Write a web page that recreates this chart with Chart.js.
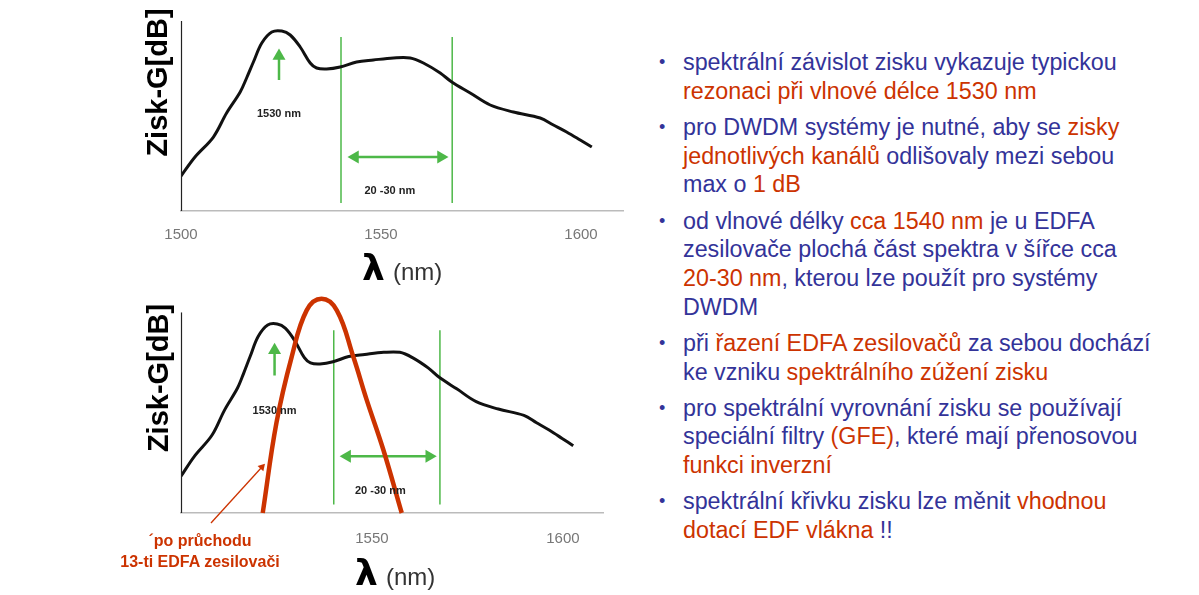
<!DOCTYPE html>
<html>
<head>
<meta charset="utf-8">
<script src="https://cdn.jsdelivr.net/npm/chart.js@4.4.1/dist/chart.umd.min.js"></script>
<style>
body{margin:0;background:#fff;width:1199px;height:595px;overflow:hidden;position:relative;font-family:"Liberation Sans",Arial,sans-serif;}
#topBox{position:absolute;left:0;top:0;width:640px;height:290px;}
#botBox{position:absolute;left:0;top:285px;width:640px;height:310px;}
.note{position:absolute;left:100px;top:530px;width:200px;text-align:center;color:#cc3300;font-weight:bold;font-size:16px;line-height:21px;white-space:nowrap;}
#text{position:absolute;left:683px;top:48px;font-size:23.3px;line-height:28.7px;color:#333399;white-space:nowrap;}
#text p{margin:0 0 7.5px 0;position:relative;}
#text p::before{content:"\2022";position:absolute;left:-24px;top:0;font-size:18px;}
.r{color:#cc3300;}
</style>
</head>
<body>
<div id="topBox"><canvas id="topChart"></canvas></div>
<div id="botBox"><canvas id="botChart"></canvas></div>
<div class="note">´po průchodu<br>13-ti EDFA zesilovači</div>
<div id="text">
<p>spektrální závislot zisku vykazuje typickou<br><span class="r">rezonaci při vlnové délce 1530 nm</span></p>
<p>pro DWDM systémy je nutné, aby se <span class="r">zisky</span><br><span class="r">jednotlivých kanálů</span> odlišovaly mezi sebou<br>max o <span class="r">1 dB</span></p>
<p>od vlnové délky <span class="r">cca 1540 nm</span> je u EDFA<br>zesilovače plochá část spektra v šířce cca<br><span class="r">20-30 nm</span>, kterou lze použít pro systémy<br>DWDM</p>
<p>při <span class="r">řazení EDFA zesilovačů</span> za sebou dochází<br>ke vzniku <span class="r">spektrálního zúžení zisku</span></p>
<p>pro spektrální vyrovnání zisku se používají<br>speciální filtry <span class="r">(GFE)</span>, které mají přenosovou<br><span class="r">funkci inverzní</span></p>
<p>spektrální křivku zisku lze měnit <span class="r">vhodnou</span><br><span class="r">dotací EDF vlákna</span> !!</p>
</div>
<script>
// zisk EDFA
const gainNm = [1500, 1503.5, 1508.1, 1511.4, 1514.8, 1516.4, 1518.1, 1520.2, 1522.7, 1525.2, 1527.3, 1529.8, 1532.3, 1533.9, 1536.4, 1539.8, 1543.9, 1548.1, 1553.1, 1557.3, 1560.6, 1564.8, 1567.7, 1572.3, 1577.3, 1583.1, 1589.8, 1593.1, 1596.4, 1599.8, 1602.7];
const gainDb = [3.5, 5.4, 7.4, 9.8, 11.9, 13.3, 14.9, 16.8, 17.9, 18.0, 17.6, 16.4, 14.8, 14.3, 14.2, 14.4, 14.9, 15.1, 15.3, 15.3, 14.8, 13.8, 12.9, 11.8, 10.6, 9.9, 9.3, 8.6, 7.9, 7.1, 6.4];

// zisk po 13 zesilovačích
const narrowNm = [1521.4, 1525.0, 1529.0, 1532.9, 1536.8, 1540.8, 1545.1, 1548.6, 1553.0, 1557.8];
const narrowDb = [0, 8.6, 14.9, 19.3, 20.4, 19.3, 14.9, 10.8, 6.0, 0];

// plochá oblast 20-30 nm
const bandNm = [1540, 1567.8];
const bandDb = [0.8, 17.4];
const bandArrowNm = [1543.5, 1565];
const bandArrowDb = 5.4;

// rezonance 1530 nm
const peakArrowNm = 1524.5;
const peakArrowDb = [13.1, 15.5];

const topTicks = [1500, 1550, 1600];
const botTicks = [1550, 1600];

const GREEN = '#4db848';
const RED = '#cc3300';

function pts(xs, ys) {
    return xs.map((x, i) => ({ x: x, y: ys[i] }));
}

// pomocný plugin: osa y, popisky, titulky os
const overlay = {
    id: 'overlay',
    afterDatasetsDraw(chart, args, opts) {
        const ctx = chart.ctx, x = chart.scales.x, y = chart.scales.y;
        ctx.save();
        ctx.strokeStyle = '#222';
        ctx.lineWidth = 1.2;
        ctx.beginPath();
        ctx.moveTo(x.left + 0.5, y.getPixelForValue(0));
        ctx.lineTo(x.left + 0.5, y.getPixelForValue(opts.axisTop));
        ctx.stroke();

        ctx.fillStyle = '#222';
        ctx.font = 'bold 11px "Liberation Sans"';
        ctx.textAlign = 'center';
        ctx.textBaseline = 'middle';
        opts.labels.forEach(l => ctx.fillText(l.text, x.getPixelForValue(l.x), y.getPixelForValue(l.y)));

        ctx.save();
        ctx.translate(opts.yTitle[0], opts.yTitle[1]);
        ctx.rotate(-Math.PI / 2);
        ctx.font = 'bold 29px "Liberation Sans"';
        ctx.fillStyle = '#000';
        ctx.textBaseline = 'alphabetic';
        ctx.fillText('Zisk-G[dB]', 0, 0);
        ctx.restore();

        ctx.textAlign = 'left';
        ctx.textBaseline = 'alphabetic';
        ctx.fillStyle = '#000';
        ctx.font = 'bold 36px "DejaVu Sans"';
        ctx.fillText('λ', opts.xTitle[0], opts.xTitle[1]);
        ctx.fillStyle = '#333';
        ctx.font = '24px "Liberation Sans"';
        ctx.fillText('(nm)', opts.xTitle[0] + 31, opts.xTitle[1]);
        ctx.restore();
    }
};

function baseDatasets() {
    return [
        { data: pts(gainNm, gainDb), borderColor: '#111', borderWidth: 3, pointRadius: 0, tension: 0.35 },
        { data: pts([bandNm[0], bandNm[0]], bandDb), borderColor: GREEN, borderWidth: 1.5, pointRadius: 0 },
        { data: pts([bandNm[1], bandNm[1]], bandDb), borderColor: GREEN, borderWidth: 1.5, pointRadius: 0 },
        {
            data: pts(bandArrowNm, [bandArrowDb, bandArrowDb]), borderColor: GREEN, borderWidth: 2.5,
            pointStyle: 'triangle', pointRadius: 7.5, pointRotation: [270, 90],
            pointBackgroundColor: GREEN, pointBorderColor: GREEN, pointBorderWidth: 0
        },
        {
            data: pts([peakArrowNm, peakArrowNm], peakArrowDb), borderColor: GREEN, borderWidth: 2.5,
            pointStyle: 'triangle', pointRadius: [0, 7.5], pointRotation: 0,
            pointBackgroundColor: GREEN, pointBorderColor: GREEN, pointBorderWidth: 0
        }
    ];
}

function makeChart(id, datasets, cfg) {
    return new Chart(document.getElementById(id), {
        type: 'line',
        data: { datasets: datasets },
        options: {
            responsive: true,
            maintainAspectRatio: false,
            animation: false,
            layout: { padding: cfg.padding },
            plugins: { legend: { display: false }, tooltip: { enabled: false }, overlay: cfg.overlay },
            scales: {
                x: {
                    type: 'linear', min: 1500, max: 1610.5,
                    grid: { display: false },
                    border: { display: true, color: '#bbb', width: 1.5 },
                    ticks: {
                        padding: cfg.tickPad, color: '#777', font: { family: 'Liberation Sans', size: 15 },
                        callback: v => String(v)
                    },
                    afterBuildTicks: s => { s.ticks = cfg.ticks.map(v => ({ value: v })); },
                    afterFit: s => { s.height = cfg.xHeight; }
                },
                y: { display: false, min: 0, max: cfg.yMax }
            }
        },
        plugins: [overlay]
    });
}

makeChart('topChart', baseDatasets(), {
    padding: { left: 181, right: 17, top: 21, bottom: 0 },
    xHeight: 79, tickPad: 7, ticks: topTicks, yMax: 19,
    overlay: {
        axisTop: 19,
        labels: [{ text: '1530 nm', x: 1524.5, y: 9.7 }, { text: '20 -30 nm', x: 1552.2, y: 2.0 }],
        yTitle: [167, 82.5],
        xTitle: [362, 280]
    }
});

const botSets = baseDatasets();
botSets.unshift(
    { data: pts(narrowNm, narrowDb), borderColor: RED, borderWidth: 4.5, pointRadius: 0, tension: 0.4, clip: false },
    {
        data: pts([1507.85, 1521.2], [-0.95, 4.38]), borderColor: RED, borderWidth: 1.3, clip: false,
        pointStyle: 'triangle', pointRadius: [0, 4.5], pointRotation: 42,
        pointBackgroundColor: RED, pointBorderColor: RED, pointBorderWidth: 0
    }
);
makeChart('botChart', botSets, {
    padding: { left: 181, right: 37, top: 7.5, bottom: 0 },
    xHeight: 82, tickPad: 9, ticks: botTicks, yMax: 21,
    overlay: {
        axisTop: 19.1,
        labels: [{ text: '1530 nm', x: 1524.5, y: 9.7 }, { text: '20 -30 nm', x: 1552.2, y: 2.1 }],
        yTitle: [168, 93],
        xTitle: [355, 300]
    }
});
</script>
</body>
</html>
